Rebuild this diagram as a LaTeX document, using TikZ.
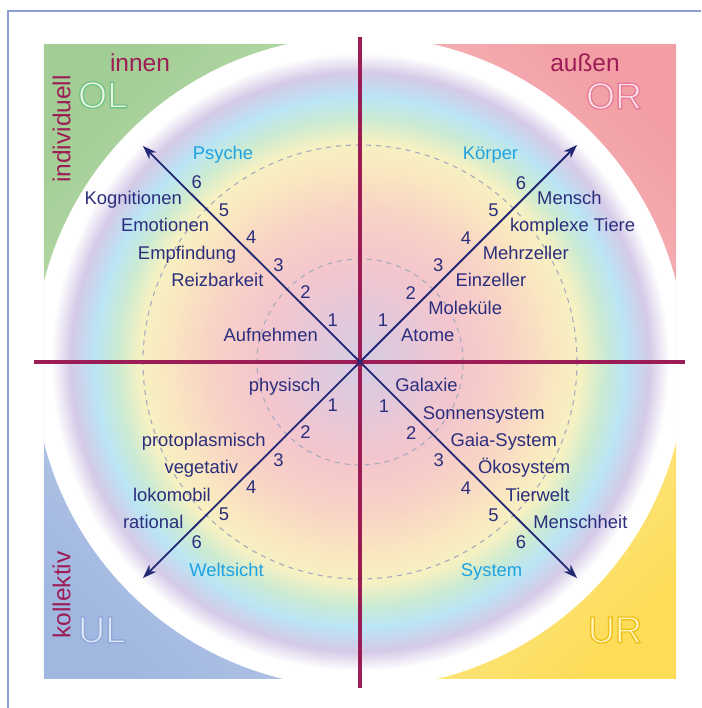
\documentclass[tikz,border=0pt]{standalone}
\usepackage{fontspec}
\setmainfont{Liberation Sans}
\usetikzlibrary{arrows.meta}

\definecolor{tinte}{HTML}{2B2E7C}
\definecolor{pfeilfarbe}{HTML}{222874}
\definecolor{achsfarbe}{HTML}{9C1D55}
\definecolor{ebenenfarbe}{HTML}{1EA2E2}
\definecolor{rahmenfarbe}{HTML}{8E9DD6}
\definecolor{strichfarbe}{HTML}{A8ABBE}
% quadrants
\definecolor{olDunkel}{HTML}{A2CD94}
\definecolor{olHell}{HTML}{CCE6C0}
\definecolor{orDunkel}{HTML}{F29EA4}
\definecolor{orHell}{HTML}{F9CBCB}
\definecolor{ulDunkel}{HTML}{A0B7E0}
\definecolor{ulHell}{HTML}{C8D3EE}
\definecolor{urDunkel}{HTML}{FDDC58}
\definecolor{urHell}{HTML}{FDF1B4}
\definecolor{olFuell}{HTML}{EAF5E3}
\definecolor{orFuell}{HTML}{FCE3EA}
\definecolor{ulFuell}{HTML}{DDE7F7}
\definecolor{urFuell}{HTML}{FFF6C4}
% rainbow
\definecolor{rbA}{HTML}{D5CDE3}
\definecolor{rbB}{HTML}{E2C8DB}
\definecolor{rbC}{HTML}{F4C6CD}
\definecolor{rbD}{HTML}{F8D2C6}
\definecolor{rbE}{HTML}{FAE8C0}
\definecolor{rbF}{HTML}{F6F1C2}
\definecolor{rbG}{HTML}{CDEBD2}
\definecolor{rbH}{HTML}{BAE5F4}
\definecolor{rbI}{HTML}{D5CAE7}

\pgfdeclareradialshading{regenbogen}{\pgfpoint{0bp}{0bp}}{%
  color(0bp)=(rbA); color(3.4bp)=(rbB); color(7.7bp)=(rbC);
  color(11.5bp)=(rbD); color(15bp)=(rbE); color(16.9bp)=(rbF);
  color(18.6bp)=(rbG); color(20.3bp)=(rbH); color(22.2bp)=(rbI);
  color(23.7bp)=(white); color(25bp)=(white); color(50bp)=(white)}

% hollow capitals: stroke rgb, fill colour, text
\newcommand\hohl[3]{%
  {\color{#2}\special{pdf:literal direct #1 RG 1.3 w 2 Tr}#3\special{pdf:literal direct 0 Tr}}}

\tikzset{
  stufe/.style={font=\fontsize{18.4}{22}\selectfont, text=tinte, inner sep=0pt},
  zahl/.style={stufe},
  ebene/.style={stufe, text=ebenenfarbe, anchor=base},
  seite/.style={font=\fontsize{24.5}{28}\selectfont, text=achsfarbe, inner sep=0pt, anchor=base},
  quadrant/.style={font=\fontsize{37.5}{40}\selectfont, inner sep=0pt},
  pfeil/.style={draw=pfeilfarbe, line width=1.8pt, -{Stealth[length=14pt,width=10pt]}},
  achse/.style={draw=achsfarbe, line width=3.5pt},
  kreis/.style={draw=strichfarbe, line width=1.1pt, dash pattern=on 5pt off 5pt}
}

\begin{document}
\begin{tikzpicture}[x=1pt,y=1pt]
  \useasboundingbox (-360,-346) rectangle (341,362);
  \coordinate (mitte) at (0,0);

  % frame
  \draw[rahmenfarbe, line width=2pt] (-351.7,-346) -- (-351.7,351) -- (341,351);

  % the four quadrants
  \shade[top color=olDunkel, bottom color=olHell, shading angle=45] (-316,0) rectangle (0,317);
  \shade[top color=orDunkel, bottom color=orHell, shading angle=-45] (0,0) rectangle (316,317);
  \shade[top color=ulDunkel, bottom color=ulHell, shading angle=135] (-316,-316) rectangle (0,0);
  \shade[top color=urDunkel, bottom color=urHell, shading angle=225] (0,-316) rectangle (316,0);

  % rainbow disc
  \begin{scope}
    \clip (-316,-316) rectangle (316,317);
    \shade[shading=regenbogen] (mitte) circle (326);
  \end{scope}

  \draw[kreis] (mitte) circle (103);
  \draw[kreis] (mitte) circle (217);

  % axes
  \draw[achse] (0,325) -- (0,-326);
  \draw[achse] (-326,0) -- (325,0);

  % arrows
  \coordinate (ol) at (-217,216);
  \coordinate (or) at (217,217);
  \coordinate (ul) at (-217,-216);
  \coordinate (ur) at (217,-216);
  \foreach \ziel in {ol,or,ul,ur}
    \draw[pfeil] (mitte) -- (\ziel);

  % steps
  \foreach \k in {1,...,6} {
    \node[zahl] (zol\k) at ({-27.2*\k}, {14.5+27.5*\k}) {\k};
    \node[zahl] (zor\k) at ({-4.5+27.6*\k}, {14.5+27.4*\k}) {\k};
    \node[zahl] (zul\k) at ({-27.2*\k}, {-15.5-27.4*\k}) {\k};
    \node[zahl] (zur\k) at ({-3.5+27.4*\k}, {-16.5-27.3*\k}) {\k};
  }

  % upper left
  \foreach \k/\wort in {1/Aufnehmen, 3/Reizbarkeit, 4/Empfindung, 5/Emotionen, 6/Kognitionen}
    \node[stufe, anchor=base east] (tol\k) at ({-14.8-27.2*\k}, {27.5*\k-7.2}) {\wort};
  % upper right
  \foreach \k/\wort in {1/Atome, 2/Moleküle, 3/Einzeller, 4/Mehrzeller, 5/komplexe Tiere, 6/Mensch}
    \node[stufe, anchor=base west] (tor\k) at ({13.8+27.2*\k}, {27.5*\k-7.2}) {\wort};
  % lower left
  \foreach \k/\wort in {1/physisch, 3/protoplasmisch, 4/vegetativ, 5/lokomobil, 6/rational}
    \node[stufe, anchor=base east] (tul\k) at ({-12-27.4*\k}, {-2.5-27.3*\k}) {\wort};
  % lower right
  \foreach \k/\wort in {1/Galaxie, 2/Sonnensystem, 3/Gaia-System, 4/Ökosystem, 5/Tierwelt, 6/Menschheit}
    \node[stufe, anchor=base west] (tur\k) at ({7.5+27.6*\k}, {-2.5-27.3*\k}) {\wort};

  \node[ebene] (psyche) at (-137,202.7) {Psyche};
  \node[ebene] (koerper) at (130.5,202.7) {Körper};
  \node[ebene] (weltsicht) at (-133.5,-214) {Weltsicht};
  \node[ebene] (system) at (131.5,-214.7) {System};

  % sides
  \node[seite] (innen) at (-220,290.3) {innen};
  \node[seite] (aussen) at (225,290.3) {außen};
  \node[seite, rotate=90] (individuell) at (-289.5,233) {individuell};
  \node[seite, rotate=90] (kollektiv) at (-289.5,-233) {kollektiv};

  \node[quadrant] (OL) at (-257,267) {\hohl{0.45 0.77 0.53}{olFuell}{OL}};
  \node[quadrant] (OR) at (254,266) {\hohl{0.91 0.49 0.60}{orFuell}{OR}};
  \node[quadrant] (UL) at (-258,-268) {\hohl{0.56 0.66 0.85}{ulFuell}{UL}};
  \node[quadrant] (UR) at (255,-268) {\hohl{0.94 0.75 0.08}{urFuell}{UR}};
\end{tikzpicture}
\end{document}
